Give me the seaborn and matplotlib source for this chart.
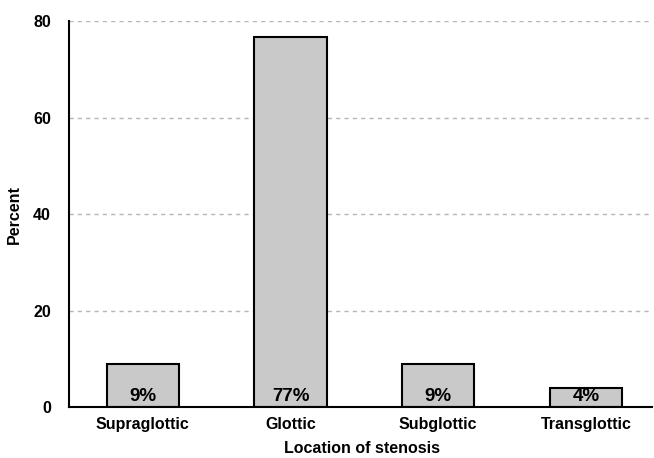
import matplotlib
matplotlib.use("Agg")
import matplotlib.pyplot as plt
import seaborn as sns
import pandas as pd

categories = ["Supraglottic", "Glottic", "Subglottic", "Transglottic"]
values = [8.9, 76.8, 8.9, 3.9]
labels = ["9%", "77%", "9%", "4%"]
yticks = [0, 20, 40, 60, 80]

sns.set_style("white")
plt.rcParams['font.family'] = ['Liberation Sans', 'DejaVu Sans']
plt.rcParams['text.color'] = 'black'
plt.rcParams['axes.labelcolor'] = 'black'
plt.rcParams['xtick.color'] = 'black'
plt.rcParams['ytick.color'] = 'black'

df = pd.DataFrame({"loc": categories, "pct": values})

fig = plt.figure(figsize=(6.54, 4.58), dpi=100)
ax = fig.add_axes([0.1055, 0.111, 0.892, 0.843])
ax.set_axisbelow(True)
ax.yaxis.grid(True, linestyle=(0, (3, 3)), color="#b5b5b5", linewidth=1.0)
sns.barplot(data=df, x="loc", y="pct", color="#c9c9c9", edgecolor="black",
            linewidth=1.5, width=0.49, saturation=1, ax=ax)
ax.set_xlim(-0.5, 3.45)
ax.set_ylim(0, 80)
ax.set_yticks(yticks)
ax.set_yticklabels([str(t) for t in yticks], fontweight="bold", fontsize=11.5)
ax.set_xticks(range(len(categories)))
ax.set_xticklabels(categories, fontweight="bold", fontsize=11.5)
ax.tick_params(axis="both", length=0)
ax.tick_params(axis="x", pad=7)
ax.tick_params(axis="y", pad=13)
for i, (v, lab) in enumerate(zip(values, labels)):
    ax.text(i, 0.5, lab, ha="center", va="bottom", fontsize=13.5, fontweight="bold")
ax.set_xlabel("Location of stenosis", fontweight="bold", fontsize=11.5)
ax.set_ylabel("Percent", fontweight="bold", fontsize=11.5)
ax.xaxis.set_label_coords(0.502, -0.088)
ax.yaxis.set_label_coords(-0.081, 0.5)
for s in ["top", "right"]:
    ax.spines[s].set_visible(False)
for s in ["left", "bottom"]:
    ax.spines[s].set_color("black")
    ax.spines[s].set_linewidth(1.5)
fig.savefig("out.png", dpi=100)
